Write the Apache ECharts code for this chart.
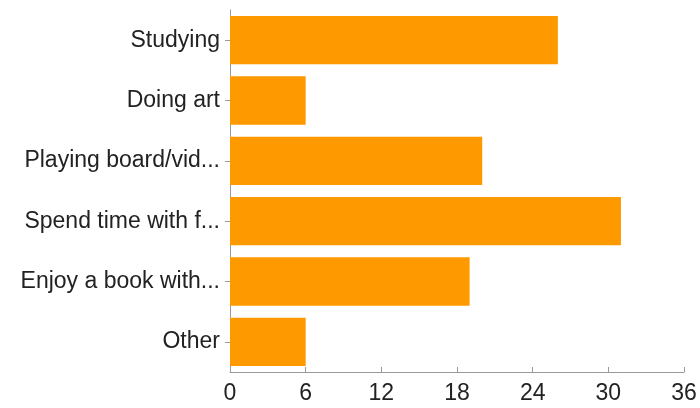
<!DOCTYPE html>
<html><head><meta charset="utf-8">
<script src="https://cdn.jsdelivr.net/npm/echarts@6/dist/echarts.min.js"></script>
<style>html,body{margin:0;padding:0;background:#fff}#c{width:700px;height:408px}</style>
</head><body><div id="c"></div>
<script>
const categories = ["Studying", "Doing art", "Playing board/vid...", "Spend time with f...", "Enjoy a book with...", "Other"];
const values = [26, 6, 20, 31, 19, 6];
const xTicks = [0, 6, 12, 18, 24, 30, 36];

const chart = echarts.init(document.getElementById('c'), null, {renderer: 'canvas'});
chart.setOption({
  animation: false,
  grid: {left: 230, right: 16, top: 10, bottom: 36, containLabel: false},
  xAxis: {
    type: 'value', min: xTicks[0], max: xTicks[xTicks.length - 1], interval: 6,
    axisLine: {show: true, lineStyle: {color: '#9a9a9a', width: 1}},
    axisTick: {show: true, inside: true, length: 5, lineStyle: {color: '#9a9a9a'}},
    splitLine: {show: false},
    axisLabel: {color: '#222', fontFamily: 'Liberation Sans, Arial, sans-serif', fontSize: 23, margin: 10}
  },
  yAxis: {
    type: 'category', data: categories, inverse: true,
    axisLine: {show: true, lineStyle: {color: '#9a9a9a', width: 1}},
    axisTick: {show: true, length: 5, alignWithLabel: true, lineStyle: {color: '#9a9a9a'}},
    axisLabel: {color: '#222', fontFamily: 'Liberation Sans, Arial, sans-serif', fontSize: 23, margin: 10}
  },
  series: [{
    type: 'bar', data: values, barCategoryGap: '20%',
    itemStyle: {color: '#ff9900'}
  }]
});
</script></body></html>
